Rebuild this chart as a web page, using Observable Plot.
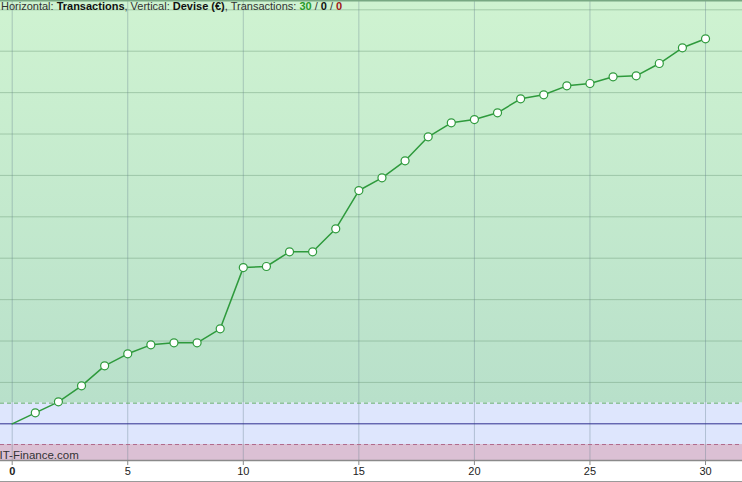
<!DOCTYPE html>
<html>
<head>
<meta charset="utf-8">
<script src="https://cdn.jsdelivr.net/npm/d3@7"></script>
<script src="https://cdn.jsdelivr.net/npm/@observablehq/plot@0.6"></script>
<style>
  html, body { margin: 0; padding: 0; background: #fff; }
  #chart { width: 742px; position: relative; border-bottom: 1px solid #9a9a9a; }
  #chart svg { display: block; }
</style>
</head>
<body>
<div id="chart"></div>
<script>
// Transactions (horizontal) and cumulative currency result (vertical, €)
const transactions = [0,1,2,3,4,5,6,7,8,9,10,11,12,13,14,15,16,17,18,19,20,21,22,23,24,25,26,27,28,29,30];
const devise = [0,266,531,918,1401,1691,1908,1957,1957,2295,3773,3800,4155,4155,4710,5635,5942,6353,6932,7271,7350,7512,7850,7947,8164,8220,8382,8406,8703,9082,9300];
const xTicks = [0,5,10,15,20,25,30];
const yGrid = [1000,2000,3000,4000,5000,6000,7000,8000,9000,10000];
const bandUpper = 500;
const bandLower = -500;
const xDomain = [-0.506, 31.6];
const yDomain = [-886, 10225];

const data = transactions.map((t, i) => ({t, v: devise[i]}));

const svg = Plot.plot({
  width: 742,
  height: 481,
  marginTop: 0,
  marginLeft: 0,
  marginRight: 0,
  marginBottom: 21,
  style: {fontFamily: "'Liberation Sans', Arial, sans-serif", background: "transparent"},
  x: {domain: xDomain, axis: null, label: null},
  y: {domain: yDomain, axis: null, label: null},
  marks: [
    Plot.rect([{a: bandUpper, b: yDomain[1]}], {x1: () => xDomain[0], x2: () => xDomain[1], y1: "a", y2: "b", fill: "url(#gGreen)"}),
    Plot.rect([{a: bandLower, b: bandUpper}], {x1: () => xDomain[0], x2: () => xDomain[1], y1: "a", y2: "b", fill: "#dee6fd"}),
    Plot.rect([{a: yDomain[0], b: bandLower}], {x1: () => xDomain[0], x2: () => xDomain[1], y1: "a", y2: "b", fill: "#dbc0d4"}),
    Plot.ruleY(yGrid, {stroke: "#6f9c7a", strokeOpacity: 0.45}),
    Plot.ruleX(xTicks, {stroke: "#66808e", strokeOpacity: 0.38}),
    Plot.ruleY([bandUpper], {stroke: "#5fae62", strokeDasharray: "4,3"}),
    Plot.ruleY([bandLower], {stroke: "#b06a8c", strokeDasharray: "4,3"}),
    Plot.ruleY([0], {stroke: "#2e2e8e", strokeWidth: 1}),
    Plot.ruleY([yDomain[1]], {stroke: "#78a883", strokeWidth: 2}),
    Plot.ruleY([yDomain[0]], {stroke: "#8a8a8a", strokeWidth: 1.5}),
    Plot.text(["IT-Finance.com"], {frameAnchor: "bottom-left", textAnchor: "start", lineAnchor: "bottom", dx: -1, dy: -2, fontSize: 11.5, fill: "#333"}),
    Plot.line(data, {x: "t", y: "v", stroke: "#2e9a3c", strokeWidth: 1.5}),
    Plot.dot(data.filter(d => d.t > 0), {x: "t", y: "v", r: 4, fill: "white", stroke: "#2e9a3c", strokeWidth: 1.2}),
    Plot.axisX(xTicks, {anchor: "bottom", label: null, tickSize: 5, tickPadding: 2, fontSize: 11, stroke: "#8a8a8a", fill: "#222", tickFormat: d => String(d)})
  ]
});

// gradient for the green zone
const s = d3.select(svg);
const defs = s.insert("defs", ":first-child");
const grad = defs.append("linearGradient").attr("id", "gGreen").attr("x1", 0).attr("y1", 0).attr("x2", 0).attr("y2", 1);
grad.append("stop").attr("offset", "0%").attr("stop-color", "#cff3d1");
grad.append("stop").attr("offset", "100%").attr("stop-color", "#b8e0ca");

// bold "0" tick label
s.selectAll("text").filter(function() { return this.textContent === "0"; }).attr("font-weight", "bold");

// header text
const header = s.append("text").attr("x", 1).attr("y", 10).attr("font-size", 11)
  .attr("text-anchor", "start")
  .attr("font-family", "'Liberation Sans', Arial, sans-serif").attr("fill", "#333");
const parts = [
  ["Horizontal: ", "normal", "#333"],
  ["Transactions", "bold", "#111"],
  [", Vertical: ", "normal", "#333"],
  ["Devise (€)", "bold", "#111"],
  [", Transactions: ", "normal", "#333"],
  ["30", "bold", "#2a9a2a"],
  [" / ", "normal", "#333"],
  ["0", "bold", "#111"],
  [" / ", "normal", "#333"],
  ["0", "bold", "#a01818"]
];
parts.forEach(([t, w, c]) => header.append("tspan").attr("font-weight", w).attr("fill", c).text(t));

document.getElementById("chart").appendChild(svg);
</script>
</body>
</html>
